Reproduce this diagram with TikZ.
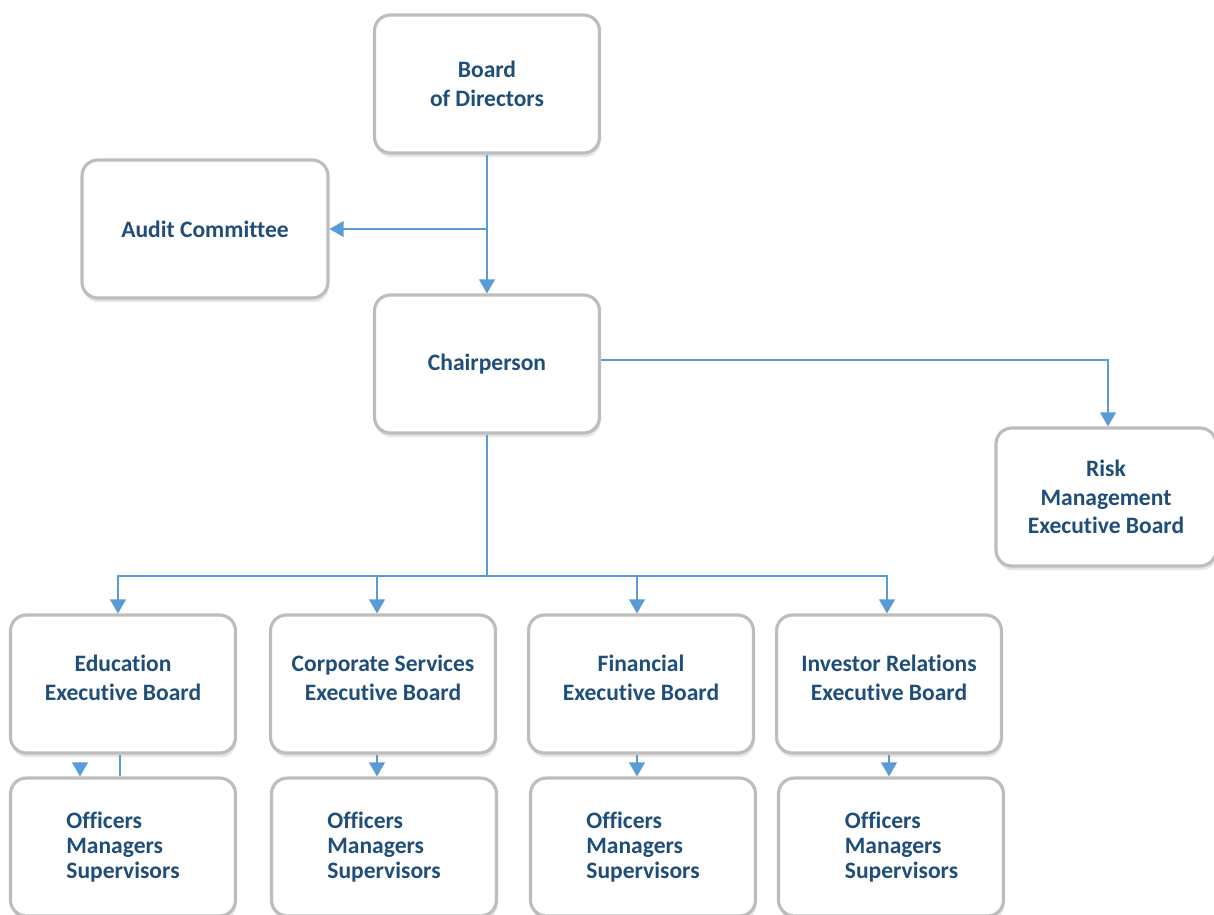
\documentclass[tikz,border=0pt]{standalone}
\usepackage{fontspec}
\setmainfont{Carlito}[Ligatures=NoCommon]
\usetikzlibrary{arrows,shadows}
\definecolor{titleblue}{HTML}{1F4E79}
\definecolor{linkblue}{HTML}{5B9BD5}

\begin{document}
\begin{tikzpicture}[x=0.02cm,y=-0.02cm,>=triangle 60]

  \tikzstyle{unit}=[rectangle,rounded corners=9pt,draw=black!26,line width=1.8pt,
                    fill=white,minimum width=4.5cm,minimum height=2.76cm,
                    drop shadow={shadow xshift=0.6pt,shadow yshift=-2.4pt,fill=black!20},
                    font=\fontsize{13.4}{16.2}\selectfont\bfseries,text=titleblue,align=center]
  \tikzstyle{exec}=[unit,text depth=7pt]
  \tikzstyle{staff}=[unit,align=left,font=\fontsize{13.4}{14.2}\selectfont\bfseries]
  \tikzstyle{link}=[draw=linkblue,line width=1.2pt]

  \useasboundingbox (0,0) rectangle (1214,914);

  % top of the tree
  \node [unit] (board)  at (487,84)  {Board\\of Directors};
  \node [unit,minimum width=4.92cm] (audit) at (205,229) {Audit Committee};
  \node [unit] (chair)  at (487,364) {Chairperson};
  \node [unit,minimum width=4.4cm] (risk) at (1106,497) {Risk\\Management\\Executive Board};

  % executive boards
  \node [exec] (edu)    at (123,684) {Education\\Executive Board};
  \node [exec] (corp)   at (383,684) {Corporate Services\\Executive Board};
  \node [exec] (fin)    at (641,684) {Financial\\Executive Board};
  \node [exec] (inv)    at (889,684) {Investor Relations\\Executive Board};

  % staff under each board
  \node [staff] (eduS)  at (123,847) {Officers\\Managers\\Supervisors};
  \node [staff] (corpS) at (384,847) {Officers\\Managers\\Supervisors};
  \node [staff] (finS)  at (643,847) {Officers\\Managers\\Supervisors};
  \node [staff] (invS)  at (891,847) {\hspace*{12pt}Officers\\\hspace*{12pt}Managers\\\hspace*{12pt}Supervisors};

  \coordinate (split) at (487,576);
  \coordinate (tip)   at (80,765);

  \draw [link,->] (board) -- (chair);
  \draw [link,->] (board.south |- audit.east) -- (audit);
  \draw [link,->] (chair.east |- 0,360) -| (risk.north -| 1108,0);
  \draw [link] (chair) -- (split);
  \draw [link,->] (split) -| (edu.north -| 118,0);
  \draw [link,->] (split) -| (corp.north -| 377,0);
  \draw [link,->] (split) -| (fin.north -| 637,0);
  \draw [link,->] (split) -| (inv.north -| 887,0);

  \draw [link] (edu.south -| 120,0) -- (eduS.north -| 120,0);
  \draw [link,->] (tip) -- (eduS.north -| tip);
  \draw [link,->] (corp.south -| 377,0) -- (corpS.north -| 377,0);
  \draw [link,->] (fin.south -| 637,0) -- (finS.north -| 637,0);
  \draw [link,->] (inv.south -| 889,0) -- (invS.north -| 889,0);
\end{tikzpicture}
\end{document}
